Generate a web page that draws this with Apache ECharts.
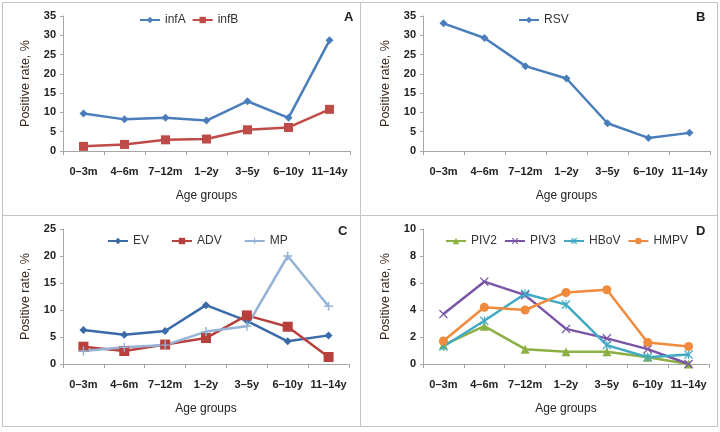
<!DOCTYPE html>
<html>
<head>
<meta charset="utf-8">
<script src="https://cdn.jsdelivr.net/npm/echarts@6/dist/echarts.min.js"></script>
<style>
html,body{margin:0;padding:0;background:#fff;}
#c{width:720px;height:432px;}
</style>
</head>
<body>
<div id="c"></div>
<script>
const categories = ['0\u20133m','4\u20136m','7\u201312m','1\u20132y','3\u20135y','6\u201310y','11\u201314y'];
const infA = [9.7, 8.2, 8.6, 7.9, 12.9, 8.6, 28.7];
const infB = [1.2, 1.7, 2.9, 3.1, 5.5, 6.1, 10.8];
const RSV = [33.1, 29.3, 22.0, 18.8, 7.2, 3.4, 4.7];
const EV = [6.3, 5.4, 6.1, 10.9, 8.0, 4.2, 5.3];
const ADV = [3.2, 2.4, 3.6, 4.8, 9.0, 6.9, 1.3];
const MP = [2.4, 3.1, 3.5, 6.0, 7.0, 20.0, 10.7];
const PIV2 = [1.4, 2.8, 1.1, 0.9, 0.9, 0.5, 0.0];
const PIV3 = [3.7, 6.1, 5.1, 2.6, 1.9, 1.1, 0.0];
const HBoV = [1.3, 3.2, 5.2, 4.4, 1.4, 0.5, 0.7];
const HMPV = [1.7, 4.2, 4.0, 5.3, 5.5, 1.6, 1.3];
const panelLetters = ['A','B','C','D'];
const yMax = [35, 35, 25, 10];
const yInterval = [5, 5, 5, 2];

const FONT = 'Liberation Sans, Arial, sans-serif';
const grids = [
  {left:63, top:16, width:287, height:135},
  {left:423, top:16, width:287, height:135},
  {left:63, top:229, width:286, height:135},
  {left:423, top:229, width:286, height:135}
];
const AXC = '#a6a6a6';
const xAxes = grids.map((g,i)=>({
  type:'category', gridIndex:i, data:categories, boundaryGap:true,
  axisLine:{lineStyle:{color:AXC,width:1}},
  axisTick:{show:true,length:4,lineStyle:{color:AXC}},
  axisLabel:{fontFamily:FONT,fontSize:11,fontWeight:'bold',color:'#222',margin:15,interval:0},
  name:'Age groups', nameLocation:'middle', nameGap:39,
  nameTextStyle:{fontFamily:FONT,fontSize:12,color:'#222'}
}));
const yAxes = grids.map((g,i)=>({
  type:'value', gridIndex:i, min:0, max:yMax[i], interval:yInterval[i],
  axisLine:{show:true,lineStyle:{color:AXC,width:1}},
  axisTick:{show:true,length:3,lineStyle:{color:AXC}},
  splitLine:{show:false},
  axisLabel:{fontFamily:FONT,fontSize:11,fontWeight:'bold',color:'#222',margin:7},
  name:'Positive rate, %', nameLocation:'middle', nameGap:31, nameRotate:90,
  nameTextStyle:{fontFamily:FONT,fontSize:12.5,color:'#3b2a20'}
}));

const CROSS = 'path://M4.2,0H5.8V4.2H10V5.8H5.8V10H4.2V5.8H0V4.2H4.2Z';
const XSYM = 'path://M0,1L1,0L5,4L9,0L10,1L6,5L10,9L9,10L5,6L1,10L0,9L4,5Z';
const AST = 'path://M0,1L1,0L5,4L9,0L10,1L6,5L10,9L9,10L5,6L1,10L0,9L4,5Z M4.4,0H5.6V10H4.4Z';

function ser(name, data, idx, color, symbol, size){
  return {
    name, type:'line', data, xAxisIndex:idx, yAxisIndex:idx,
    symbol, symbolSize:size, showSymbol:true,
    lineStyle:{color, width:2.5}, itemStyle:{color},
    animation:false
  };
}
const series = [
  ser('infA', infA, 0, '#4a7ebb', 'diamond', 8),
  ser('infB', infB, 0, '#be4b48', 'rect', 9),
  ser('RSV', RSV, 1, '#4a7ebb', 'diamond', 8),
  ser('EV', EV, 2, '#3a6aa8', 'diamond', 8),
  ser('ADV', ADV, 2, '#b8403c', 'rect', 10),
  ser('MP', MP, 2, '#95b3d7', CROSS, 9),
  ser('PIV2', PIV2, 3, '#8db045', 'triangle', 9),
  ser('PIV3', PIV3, 3, '#7a55a6', XSYM, 9),
  ser('HBoV', HBoV, 3, '#40a9c4', AST, 9),
  ser('HMPV', HMPV, 3, '#f08a3c', 'circle', 9)
];
const legTxt = {fontFamily:FONT,fontSize:12,color:'#333'};
const legends = [
  {data:['infA','infB'], left:139, top:14, itemGap:6},
  {data:['RSV'], left:518, top:14, itemGap:6},
  {data:['EV','ADV','MP'], left:107, top:235, itemGap:22},
  {data:['PIV2','PIV3','HBoV','HMPV'], left:445, top:235, itemGap:7}
].map(l=>Object.assign({itemWidth:20,itemHeight:8,textStyle:legTxt,padding:0}, l));

const titles = panelLetters.map((t,i)=>({
  text:t, left:[344,696,338,696][i], top:[11,11,225,225][i], padding:0,
  textStyle:{fontFamily:FONT,fontSize:13,fontWeight:'bold',color:'#222'}
}));

const BC = '#c4c4c4';
const borders = [
  [2,2,358,213],[360,2,357,213],[2,215,358,211],[360,215,357,211]
].map(b=>({type:'rect', shape:{x:b[0]+0.5,y:b[1]+0.5,width:b[2],height:b[3]},
  style:{fill:'none',stroke:BC,lineWidth:1}, silent:true}));

const chart = echarts.init(document.getElementById('c'), null, {renderer:'canvas'});
chart.setOption({
  backgroundColor:'#fff',
  animation:false,
  title:titles,
  legend:legends,
  grid:grids,
  xAxis:xAxes,
  yAxis:yAxes,
  series,
  graphic:borders
});
</script>
</body>
</html>
